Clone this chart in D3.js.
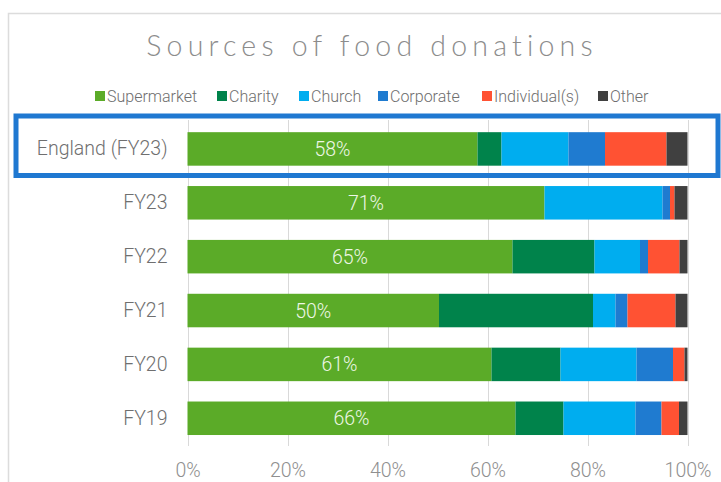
<!DOCTYPE html>
<html>
<head>
<meta charset="utf-8">
<script src="https://cdn.jsdelivr.net/npm/d3@7"></script>
<style>
  html, body { margin: 0; padding: 0; background: #fff; }
  svg { display: block; }
</style>
</head>
<body>
<svg id="chart" width="721" height="482"></svg>
<script>
const categories = ["England (FY23)", "FY23", "FY22", "FY21", "FY20", "FY19"];
const seriesNames = ["Supermarket", "Charity", "Church", "Corporate", "Individual(s)", "Other"];
const supermarket = [58, 71.4, 65, 50.3, 60.8, 65.6];
const charity     = [4.8, 0, 16.4, 30.8, 13.8, 9.6];
const church      = [13.4, 23.6, 9.1, 4.5, 15.2, 14.4];
const corporate   = [7.3, 1.5, 1.6, 2.4, 7.3, 5.2];
const individual  = [12.3, 0.9, 6.3, 9.6, 2.3, 3.5];
const other       = [4.2, 2.6, 1.6, 2.4, 0.6, 1.7];
const barLabels   = ["58%", "71%", "65%", "50%", "61%", "66%"];
const xTicks      = [0, 20, 40, 60, 80, 100];
const colors = ["#5bab28", "#00834b", "#00adef", "#1f7bd0", "#ff5233", "#404040"];

const table = categories.map((c, i) => ({
  category: c,
  "Supermarket": supermarket[i],
  "Charity": charity[i],
  "Church": church[i],
  "Corporate": corporate[i],
  "Individual(s)": individual[i],
  "Other": other[i]
}));

const svg = d3.select("#chart");
const x = d3.scaleLinear().domain([0, 100]).range([187.5, 687.5]);
const y = d3.scaleBand().domain(categories).range([122, 445.2]).paddingInner(0.378).paddingOuter(0.189);
const color = d3.scaleOrdinal().domain(seriesNames).range(colors);

// outer chart frame
svg.append("path")
  .attr("d", "M8.5,490 V13.5 H730")
  .attr("fill", "none").attr("stroke", "#dcdcdc").attr("stroke-width", 1.5);

// title
svg.append("text")
  .attr("x", 372).attr("y", 56)
  .attr("text-anchor", "middle")
  .attr("font-family", "Lato, 'Open Sans', sans-serif")
  .attr("font-weight", 300)
  .attr("font-size", 28.5)
  .attr("letter-spacing", "5.2px")
  .attr("fill", "#8c8c8c")
  .text("Sources of food donations");

// legend
const legendX = [95, 217, 299, 378, 482, 598];
const lg = svg.append("g");
seriesNames.forEach((s, i) => {
  const g = lg.append("g").attr("transform", `translate(${legendX[i]},96)`);
  g.append("rect").attr("x", 0).attr("y", -5).attr("width", 10).attr("height", 10).attr("fill", color(s));
  g.append("text").attr("x", 12).attr("y", 5.5)
    .attr("font-family", "Roboto, sans-serif").attr("font-size", 16).attr("font-weight", 300)
    .attr("fill", "#6e6e6e").text(s);
});

// gridlines
svg.append("g").selectAll("line").data(xTicks).join("line")
  .attr("x1", d => Math.round(x(d)) + 0.5).attr("x2", d => Math.round(x(d)) + 0.5)
  .attr("y1", 120).attr("y2", 446)
  .attr("stroke", "#d9d9d9").attr("stroke-width", 1);

// stacked bars
const stack = d3.stack().keys(seriesNames);
const series = stack(table);
svg.append("g").selectAll("g").data(series).join("g")
  .attr("fill", d => color(d.key))
  .selectAll("rect").data(d => d).join("rect")
  .attr("x", d => x(d[0]))
  .attr("y", d => y(d.data.category))
  .attr("width", d => Math.max(0, x(d[1]) - x(d[0])))
  .attr("height", y.bandwidth());

// bar labels
svg.append("g").selectAll("text").data(table).join("text")
  .attr("x", (d) => x(d["Supermarket"] / 2))
  .attr("y", d => y(d.category) + y.bandwidth() / 2 + 7)
  .attr("text-anchor", "middle")
  .attr("font-family", "Roboto, sans-serif").attr("font-size", 19.5).attr("font-weight", 300)
  .attr("fill", "#eef7e6")
  .text((d, i) => barLabels[i]);

// y axis labels
const yAxis = d3.axisLeft(y).tickSize(0).tickPadding(20);
const ya = svg.append("g").attr("transform", `translate(${x(0)},0)`).call(yAxis);
ya.select(".domain").remove();
ya.selectAll("text")
  .attr("font-family", "Roboto, sans-serif").attr("font-size", 19.5).attr("font-weight", 300)
  .attr("fill", "#6f6f6f");

// x axis labels
const xAxis = d3.axisBottom(x).tickValues(xTicks).tickFormat(d => d + "%").tickSize(0).tickPadding(0);
const xa = svg.append("g").attr("transform", `translate(0,463)`).call(xAxis);
xa.select(".domain").remove();
xa.selectAll("text")
  .attr("font-family", "Roboto, sans-serif").attr("font-size", 19.5).attr("font-weight", 300)
  .attr("fill", "#8f8f8f");

// highlight box
svg.append("rect")
  .attr("x", 16).attr("y", 116)
  .attr("width", 702).attr("height", 59.5)
  .attr("fill", "none").attr("stroke", "#1f78d1").attr("stroke-width", 5);
</script>
</body>
</html>
